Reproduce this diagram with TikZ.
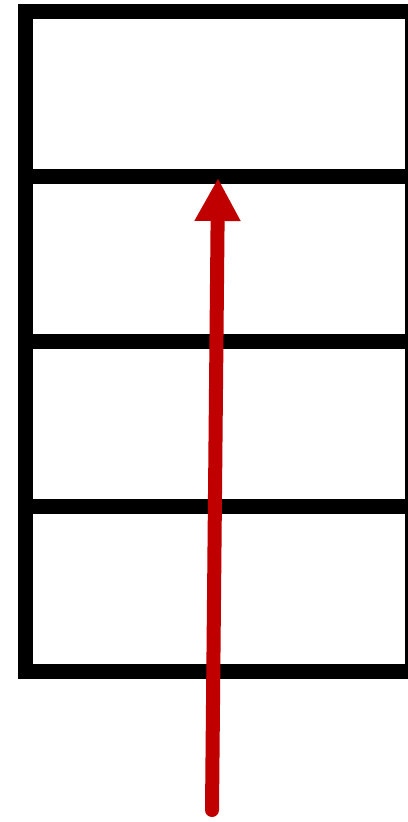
\documentclass[tikz,border=0pt]{standalone}
\usetikzlibrary{arrows.meta}
\definecolor{darkred}{RGB}{192,0,0}
\begin{document}
\begin{tikzpicture}[x=1pt, y=-1pt]
        \useasboundingbox (0, 0) rectangle (407, 822);
        \foreach \top [count = \row] in {11, 176, 341, 506}{
            \draw[black, line width=15pt] (25, \top) rectangle (412, \top + 165);
          }
        \coordinate (tail) at (212, 810);
        \coordinate (head) at (218, 178);
        \draw[darkred, line width=14pt, line cap=round, -{Triangle[length=43pt, width=43pt]}] (tail) -- (head);
      \end{tikzpicture}
\end{document}
